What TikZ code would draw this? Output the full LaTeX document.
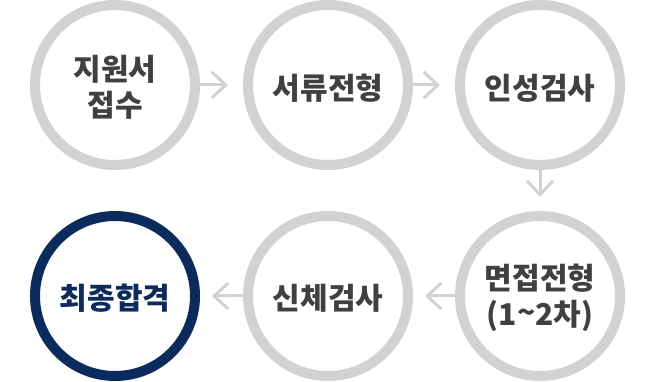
\documentclass[tikz,border=0pt]{standalone}
\usepackage{fontspec}
\newfontfamily\kr{Noto Sans CJK KR}
\usetikzlibrary{arrows.meta}
\definecolor{ringgray}{HTML}{D2D2D2}
\definecolor{txtgray}{HTML}{404040}
\definecolor{navy}{HTML}{0B2B5C}
\newcommand\lowered[2]{\raisebox{#1}[\height][\depth]{#2}}
\newcommand\twolines[2]{\setlength\tabcolsep{0pt}\begin{tabular}{c}#1\\#2\end{tabular}}
\tikzset{
  stage/.style={circle, draw=ringgray, line width=10pt, minimum size=160pt, inner sep=0pt,
    font=\kr\bfseries\fontsize{30pt}{35pt}\selectfont, text=txtgray, align=center, fill=white},
  final/.style={stage, draw=navy, text=navy},
  flow/.style={draw=ringgray, line width=3pt, -{Straight Barb[length=14pt,width=26pt,line width=3pt]}}
}
\begin{document}
\begin{tikzpicture}[x=1pt,y=-1pt]
\useasboundingbox (0,0) rectangle (659,382);
\node[stage] (s1) at (115,85) {\lowered{-6pt}{\twolines{지원서}{접수}}};
\node[stage] (s2) at (328,85) {\lowered{-3pt}{서류전형}};
\node[stage] (s3) at (540,85) {\lowered{-3pt}{인성검사}};
\node[stage] (s6) at (540,296) {\fontsize{30pt}{36pt}\selectfont\lowered{-4pt}{\twolines{면접전형}{(1\raisebox{2pt}{\textasciitilde}2차)}}};
\node[stage] (s5) at (328,296) {\lowered{-2pt}{신체검사}};
\node[final] (s4) at (115,296) {\lowered{-2pt}{최종합격}};
\draw[flow, shorten >=15pt] (s1) -- (s2);
\draw[flow, shorten >=15pt] (s2) -- (s3);
\draw[flow, shorten >=14pt] (s3) -- (s6);
\draw[flow, shorten >=12pt] (s6) -- (s5);
\draw[flow, shorten >=12pt] (s5) -- (s4);
\end{tikzpicture}
\end{document}
